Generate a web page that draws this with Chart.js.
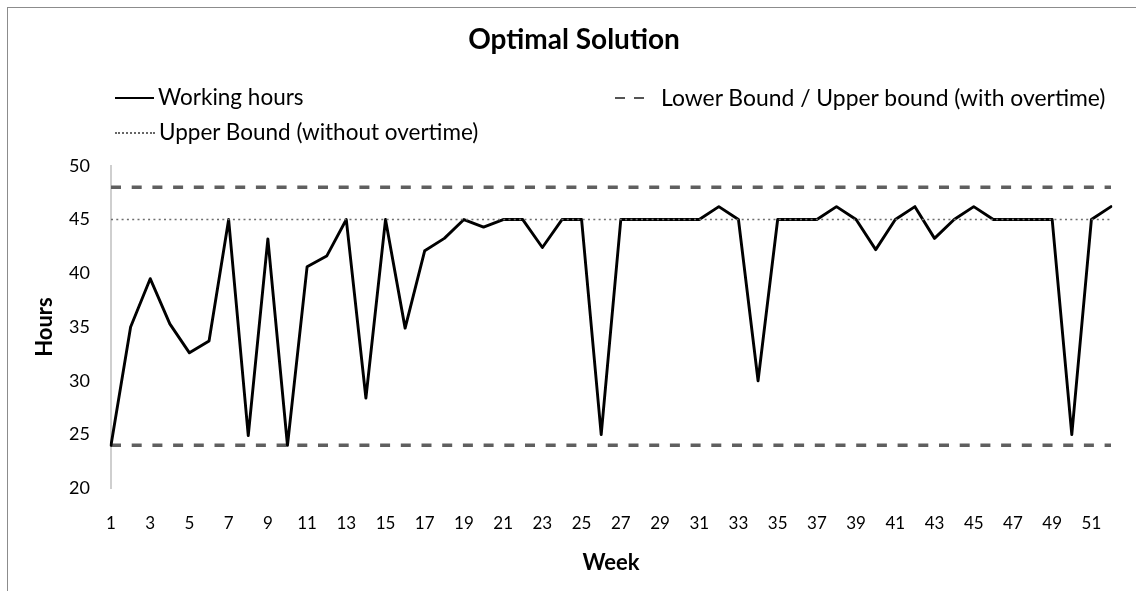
<!DOCTYPE html>
<html>
<head>
<meta charset="utf-8">
<script src="https://cdn.jsdelivr.net/npm/chart.js@4/dist/chart.umd.min.js"></script>
<style>
  html, body { margin: 0; padding: 0; background: #fff; }
  #wrap { position: relative; width: 1136px; height: 591px; overflow: hidden; font-family: Lato, "Open Sans", sans-serif; }
  #frame { position: absolute; left: 7px; top: 7px; width: 1200px; height: 700px; border-left: 1px solid #8c8c8c; border-top: 1px solid #8c8c8c; }
  #chart { position: absolute; left: 0; top: 0; }
  .leg { position: absolute; font-size: 22.5px; color: #000; line-height: 26px; white-space: nowrap; }
  .sample { position: absolute; height: 0; }
</style>
</head>
<body>
<div id="wrap">
  <div id="frame"></div>
  <canvas id="chart" width="1136" height="591"></canvas>
  <div class="sample" style="left:115px; top:97px; width:39px; border-top:2.5px solid #000;"></div>
  <div class="leg" style="left:158px; top:84px;">Working hours</div>
  <div class="sample" style="left:615px; top:97px; width:10px; border-top:2px solid #555;"></div>
  <div class="sample" style="left:634px; top:97px; width:10px; border-top:2px solid #555;"></div>
  <div class="leg" style="left:661px; top:84px; font-size:22.9px;">Lower Bound / Upper bound (with overtime)</div>
  <div class="sample" style="left:115px; top:132px; width:40px; border-top:2px dotted #666;"></div>
  <div class="leg" style="left:159px; top:119px;">Upper Bound (without overtime)</div>
</div>
<script>
const weeks = ["1","2","3","4","5","6","7","8","9","10","11","12","13","14","15","16","17","18","19","20","21","22","23","24","25","26","27","28","29","30","31","32","33","34","35","36","37","38","39","40","41","42","43","44","45","46","47","48","49","50","51","52"];
const workingHours = [24, 35, 39.5, 35.3, 32.6, 33.7, 45, 24.9, 43.2, 24, 40.6, 41.6, 45, 28.4, 45, 34.9, 42.1, 43.25, 45, 44.3, 45, 45, 42.4, 45, 45, 25, 45, 45, 45, 45, 45, 46.2, 45, 30, 45, 45, 45, 46.2, 45, 42.2, 45, 46.2, 43.25, 45, 46.2, 45, 45, 45, 45, 25, 45, 46.2];
const lowerBound = 24;
const upperBoundOvertime = 48;
const upperBoundNoOvertime = 45;
const yTicks = [20, 25, 30, 35, 40, 45, 50];

const firstWeek = weeks[0], lastWeek = weeks[weeks.length - 1];
const FONT = "Lato, 'Open Sans', sans-serif";

new Chart(document.getElementById('chart'), {
  type: 'line',
  data: {
    labels: weeks,
    datasets: [
      { label: 'Working hours', data: workingHours, borderColor: '#000', borderWidth: 2.9, borderJoinStyle: 'round', borderCapStyle: 'round', pointRadius: 0, tension: 0, order: 1 },
      { label: 'Upper Bound (without overtime)', data: [{x: firstWeek, y: upperBoundNoOvertime}, {x: lastWeek, y: upperBoundNoOvertime}], borderColor: '#6e6e6e', borderWidth: 1.5, borderDash: [2, 3.3], pointRadius: 0, order: 0 },
      { label: 'Lower Bound / Upper bound (with overtime)', data: [{x: firstWeek, y: upperBoundOvertime}, {x: lastWeek, y: upperBoundOvertime}], borderColor: '#5f5f5f', borderWidth: 3.5, borderDash: [10, 10.7], pointRadius: 0, order: 2 },
      { label: 'Lower Bound', data: [{x: firstWeek, y: lowerBound}, {x: lastWeek, y: lowerBound}], borderColor: '#5f5f5f', borderWidth: 3.5, borderDash: [10, 10.7], pointRadius: 0, order: 2 }
    ]
  },
  options: {
    responsive: false,
    animation: false,
    devicePixelRatio: 1,
    layout: { padding: { left: 12, right: 0, top: 0, bottom: 0 } },
    plugins: {
      legend: { display: false },
      tooltip: { enabled: false },
      title: {
        display: true,
        text: 'Optimal Solution',
        color: '#000',
        font: { family: FONT, size: 28, weight: 'bold', lineHeight: 1.2 },
        padding: { top: 23.2, bottom: 109 }
      }
    },
    scales: {
      x: {
        type: 'category',
        offset: false,
        grid: { display: false, drawTicks: false },
        border: { display: false },
        ticks: {
          autoSkip: false, maxRotation: 0, minRotation: 0, padding: 25,
          color: '#000', font: { family: FONT, size: 17 },
          callback: function(v, i) { return i % 2 === 0 ? this.getLabelForValue(v) : ''; }
        },
        title: { display: true, text: 'Week', color: '#000', font: { family: FONT, size: 22, weight: 'bold', lineHeight: 1.2 }, padding: { top: 0, bottom: 14.8 } },
        afterFit: (s) => { s.height = 591 - 488.3; }
      },
      y: {
        min: yTicks[0], max: yTicks[yTicks.length - 1],
        afterBuildTicks: (s) => { s.ticks = yTicks.map(v => ({ value: v })); },
        grid: { display: false, drawTicks: false },
        border: { display: true, color: '#cfcfcf', width: 2 },
        ticks: { padding: 21, color: '#000', font: { family: FONT, size: 18 } },
        title: { display: true, text: 'Hours', color: '#000', font: { family: FONT, size: 22, weight: 'bold', lineHeight: 1.2 }, padding: { top: 19.8, bottom: 0 } },
        afterFit: (s) => { s.width = 111 - 12; }
      },
      yRight: {
        position: 'right',
        min: yTicks[0], max: yTicks[yTicks.length - 1],
        grid: { display: false, drawTicks: false },
        border: { display: false },
        ticks: { display: false },
        afterFit: (s) => { s.width = 1136 - 1112; }
      }
    }
  }
});
</script>
</body>
</html>
